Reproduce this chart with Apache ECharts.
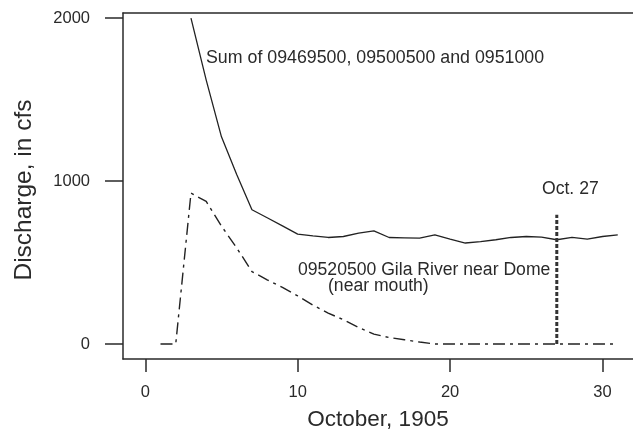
<!DOCTYPE html>
<html>
<head>
<meta charset="utf-8">
<script src="https://cdn.jsdelivr.net/npm/echarts@6/dist/echarts.min.js"></script>
<style>
html,body{margin:0;padding:0;background:#fff;}
#chart{width:633px;height:430px;}
</style>
</head>
<body>
<div id="chart"></div>
<script>
var days = [1,2,3,4,5,6,7,8,9,10,11,12,13,14,15,16,17,18,19,20,21,22,23,24,25,26,27,28,29,30,31];
var sumValues = [null,null,2000,1620,1272,1040,824,775,725,675,664,654,660,681,695,654,652,650,670,644,620,628,640,654,660,656,640,654,644,660,670];
var gilaValues = [0,0,926,875,724,590,445,394,347,296,239,190,149,102,61,40,26,12,0,0,0,0,0,0,0,0,0,0,0,0,0];
var markerDay = 27;
var markerRange = [0, 793];
var xTicks = [0,10,20,30];
var yTicks = [0,1000,2000];
var sumLabel = 'Sum of 09469500, 09500500 and 0951000';
var gilaLabel1 = '09520500 Gila River near Dome';
var gilaLabel2 = '(near mouth)';
var markerLabel = 'Oct. 27';
var xTitle = 'October, 1905';
var yTitle = 'Discharge, in cfs';

function pairs(vals){
  var out = [];
  for (var i = 0; i < days.length; i++) {
    if (vals[i] !== null) out.push([days[i], vals[i]]);
  }
  return out;
}

var FONT = '"Liberation Sans", Arial, Helvetica, sans-serif';
var INK = '#2a2a2a';

var chart = echarts.init(document.getElementById('chart'), null, {renderer:'canvas'});
chart.setOption({
  backgroundColor: '#ffffff',
  animation: false,
  grid: {left: 123, top: 13, right: 0, bottom: 71, containLabel: false, outerBoundsMode: 'none'},
  xAxis: [{
    type: 'value', min: -1.46, max: 32, position: 'bottom',
    name: xTitle, nameLocation: 'middle', nameGap: 49, nameMoveOverlap: false,
    nameTextStyle: {fontFamily: FONT, fontSize: 22.5, color: INK},
    axisLine: {show: true, onZero: false, lineStyle: {color: INK, width: 1.5}},
    axisTick: {show: true, inside: false, length: 13, customValues: xTicks, lineStyle: {color: INK, width: 1.5}},
    axisLabel: {show: true, margin: 25, customValues: xTicks, fontFamily: FONT, fontSize: 16.5, color: INK,
      formatter: function(v){ return String(v); }},
    splitLine: {show: false}
  },{
    type: 'value', min: -1.46, max: 32, position: 'top',
    axisLine: {show: true, onZero: false, lineStyle: {color: INK, width: 1.5}},
    axisTick: {show: false}, axisLabel: {show: false}, splitLine: {show: false}
  }],
  yAxis: {
    type: 'value', min: -92, max: 2032,
    name: yTitle, nameLocation: 'middle', nameGap: 86, nameMoveOverlap: false,
    nameTextStyle: {fontFamily: FONT, fontSize: 24.5, color: INK, padding: [0, 8, 0, 0]},
    axisLine: {show: true, onZero: false, lineStyle: {color: INK, width: 1.5}},
    axisTick: {show: true, inside: false, length: 18, customValues: yTicks, lineStyle: {color: INK, width: 1.5}},
    axisLabel: {show: true, margin: 33, customValues: yTicks, fontFamily: FONT, fontSize: 16.5, color: INK,
      formatter: function(v){ return String(v); }},
    splitLine: {show: false}
  },
  series: [{
    type: 'line', name: 'sum', data: pairs(sumValues), showSymbol: false, symbol: 'none',
    lineStyle: {color: '#222', width: 1.3}
  },{
    type: 'line', name: 'gila', data: pairs(gilaValues), showSymbol: false, symbol: 'none',
    lineStyle: {color: '#222', width: 1.4, type: [12,5,3,5]}
  },{
    type: 'line', name: 'marker', data: [[markerDay, markerRange[0]],[markerDay, markerRange[1]]], showSymbol: false, symbol: 'none',
    lineStyle: {color: '#333', width: 3, type: [4,2]}
  }],
  graphic: [
    {type:'text', x:206, y:58, style:{text: sumLabel, font: '17.8px ' + FONT, fill: INK, verticalAlign:'middle'}},
    {type:'text', x:298, y:270, style:{text: gilaLabel1, font: '17.6px ' + FONT, fill: INK, verticalAlign:'middle'}},
    {type:'text', x:328, y:286, style:{text: gilaLabel2, font: '17.6px ' + FONT, fill: INK, verticalAlign:'middle'}},
    {type:'text', x:542, y:189, style:{text: markerLabel, font: '17.6px ' + FONT, fill: INK, verticalAlign:'middle'}}
  ]
});
</script>
</body>
</html>
